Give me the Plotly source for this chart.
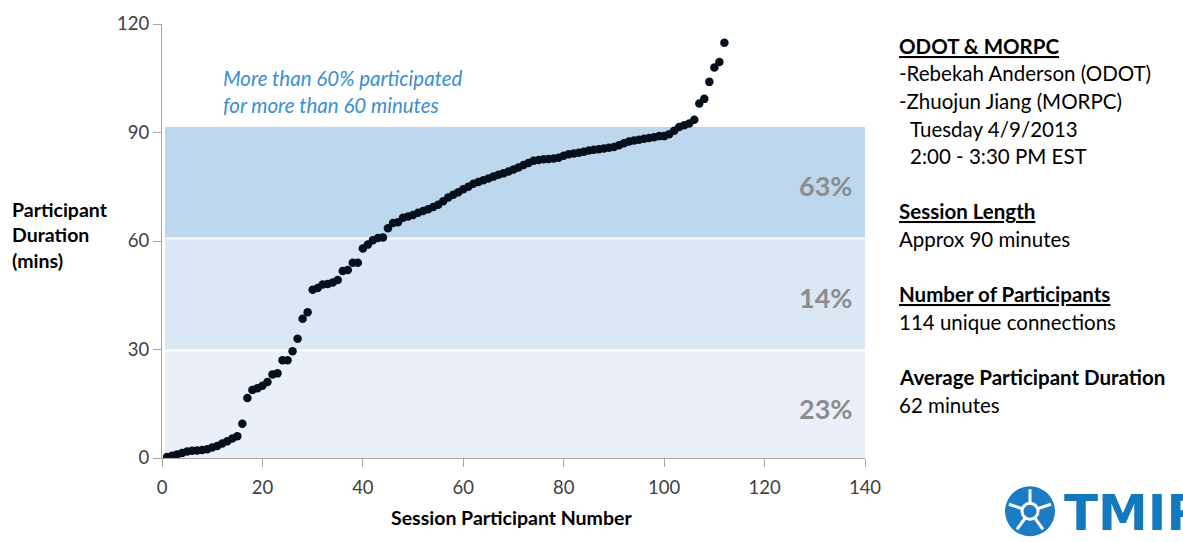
import plotly.graph_objects as go

# Duration (minutes) of each session participant, sorted ascending
participant_no = list(range(1, 113))
duration_min = [
    0.3, 0.6, 1.0, 1.4, 1.8, 2.0, 2.1, 2.2, 2.4, 2.9, 3.3, 4.0, 4.6, 5.4, 6.0,
    9.5, 16.6, 18.8, 19.3, 20.0, 21.0, 23.1, 23.4, 27.0, 27.0, 29.5, 33.0, 38.5, 40.3, 46.5,
    47.0, 48.0, 48.1, 48.5, 49.2, 51.7, 52.0, 54.0, 54.0, 57.9, 59.0, 60.2, 60.8, 61.0, 63.5,
    65.0, 65.2, 66.4, 66.8, 67.2, 67.8, 68.3, 68.8, 69.4, 70.0, 71.0, 72.0, 72.8, 73.5, 74.3,
    75.0, 75.8, 76.3, 76.8, 77.3, 77.8, 78.3, 78.7, 79.2, 79.8, 80.3, 81.0, 81.6, 82.2, 82.4,
    82.6, 82.7, 82.8, 83.0, 83.6, 84.0, 84.2, 84.4, 84.7, 85.0, 85.2, 85.4, 85.6, 85.8, 86.0,
    86.5, 87.0, 87.5, 87.8, 88.0, 88.3, 88.5, 88.7, 89.0, 89.0, 89.5, 90.5, 91.5, 92.0, 92.5,
    93.5, 98.0, 99.3, 104.0, 108.0, 109.5, 114.8,
]

# Duration bands with share of participants
band_low = [0, 30, 61]
band_high = [29.5, 60.5, 91.5]
band_share = ["23%", "14%", "63%"]
band_colors = ["#EBF0F8", "#DAE7F5", "#BDD7EE"]

x_ticks = [0, 20, 40, 60, 80, 100, 120, 140]
y_ticks = [0, 30, 60, 90, 120]

info_lines = [
    ("<b><u>ODOT & MORPC</u></b>", 0),
    ("-Rebekah Anderson (ODOT)", 0),
    ("-Zhuojun Jiang (MORPC)", 0),
    ("Tuesday 4/9/2013", 11),
    ("2:00 - 3:30 PM EST", 11),
    (None, 0),
    ("<b><u>Session Length</u></b>", 0),
    ("Approx 90 minutes", 0),
    (None, 0),
    ("<b><u>Number of Participants</u></b>", 0),
    ("114 unique connections", 0),
    (None, 0),
    ("<b>Average Participant Duration</b>", 0),
    ("62 minutes", 0),
]

W, H = 1183, 542
ML, MR, MT, MB = 162, 318, 18, 84
PW = W - ML - MR
PH = H - MT - MB
FONT = "Lato, Calibri, sans-serif"


def px(xp):
    return (xp - ML) / PW


def py(yp):
    return (H - MB - yp) / PH


fig = go.Figure()

shapes = []
for lo, hi, col in zip(band_low, band_high, band_colors):
    shapes.append(dict(type="rect", xref="x", yref="y", x0=0.6, x1=141.2,
                       y0=lo, y1=hi, fillcolor=col, line=dict(width=0), layer="below"))

fig.add_trace(go.Scatter(
    x=participant_no, y=duration_min, mode="markers",
    marker=dict(size=8.5, color="#06101c", line=dict(width=0)),
    showlegend=False, hoverinfo="x+y",
))

annotations = []
for lo, hi, txt in zip(band_low, band_high, band_share):
    annotations.append(dict(x=137.8, y=(lo + hi) / 2 - 1, xref="x", yref="y", text=f"<b>{txt}</b>",
                            showarrow=False, xanchor="right", yanchor="middle",
                            font=dict(size=27, color="#8C8C8C", family=FONT)))

annotations.append(dict(
    x=px(221), y=py(86), xref="paper", yref="paper", xanchor="left", yanchor="middle",
    text="<i>More than 60% participated<br>for more than 60 minutes</i>", showarrow=False,
    align="left", font=dict(size=20.5, color="#3A8ED6", family=FONT),
))

annotations.append(dict(
    x=px(10), y=py(232), xref="paper", yref="paper", xanchor="left", yanchor="middle",
    text="<b>Participant<br>Duration<br>(mins)</b>", showarrow=False, align="left",
    font=dict(size=19.5, color="#000000", family=FONT),
))

annotations.append(dict(
    x=px(511), y=py(518), xref="paper", yref="paper", xanchor="center", yanchor="middle",
    text="<b>Session Participant Number</b>", showarrow=False,
    font=dict(size=19.5, color="#000000", family=FONT),
))

for i, (line, indent) in enumerate(info_lines):
    if line is None:
        continue
    annotations.append(dict(
        x=px(897 + indent), y=py(40 + 28.0 * i), xref="paper", yref="paper",
        xanchor="left", yanchor="middle", text=line, showarrow=False,
        font=dict(size=20.5, color="#000000", family=FONT),
    ))

# TMIP logo
cx, cy = px(1030), py(512)
shapes.append(dict(type="circle", xref="paper", yref="paper", xsizemode="pixel", ysizemode="pixel",
                   xanchor=cx, yanchor=cy, x0=-25, x1=25, y0=-25, y1=25,
                   fillcolor="#1C7CC4", line=dict(width=0)))
for dx, dy in [(0, 22), (21, 7), (13, -18), (-13, -18), (-21, 7)]:
    shapes.append(dict(type="line", xref="paper", yref="paper", xsizemode="pixel", ysizemode="pixel",
                       xanchor=cx, yanchor=cy, x0=0, y0=0, x1=dx, y1=dy,
                       line=dict(color="white", width=3)))
shapes.append(dict(type="circle", xref="paper", yref="paper", xsizemode="pixel", ysizemode="pixel",
                   xanchor=cx, yanchor=cy, x0=-8, x1=8, y0=-8, y1=8,
                   fillcolor="#1C7CC4", line=dict(color="white", width=3)))
annotations.append(dict(
    x=px(1062), y=py(514), xref="paper", yref="paper", xanchor="left", yanchor="middle",
    text="<b>TMIP</b>", showarrow=False,
    font=dict(size=50, color="#1478BE", family="DejaVu Sans"),
))

axis_common = dict(
    showgrid=False, zeroline=False, showline=True, linecolor="#A6A6A6", linewidth=1.3,
    ticks="outside", ticklen=8, tickcolor="#A6A6A6", tickwidth=1.3,
    tickfont=dict(size=18.5, color="#404040", family=FONT),
)

fig.update_layout(
    width=W, height=H,
    margin=dict(l=ML, r=MR, t=MT, b=MB),
    paper_bgcolor="white", plot_bgcolor="white",
    xaxis=dict(range=[0, 140], tickvals=x_ticks, ticklabelstandoff=5, **axis_common),
    yaxis=dict(range=[0, 120], tickvals=y_ticks, **axis_common),
    shapes=shapes, annotations=annotations,
)

fig.write_html("out.html")
